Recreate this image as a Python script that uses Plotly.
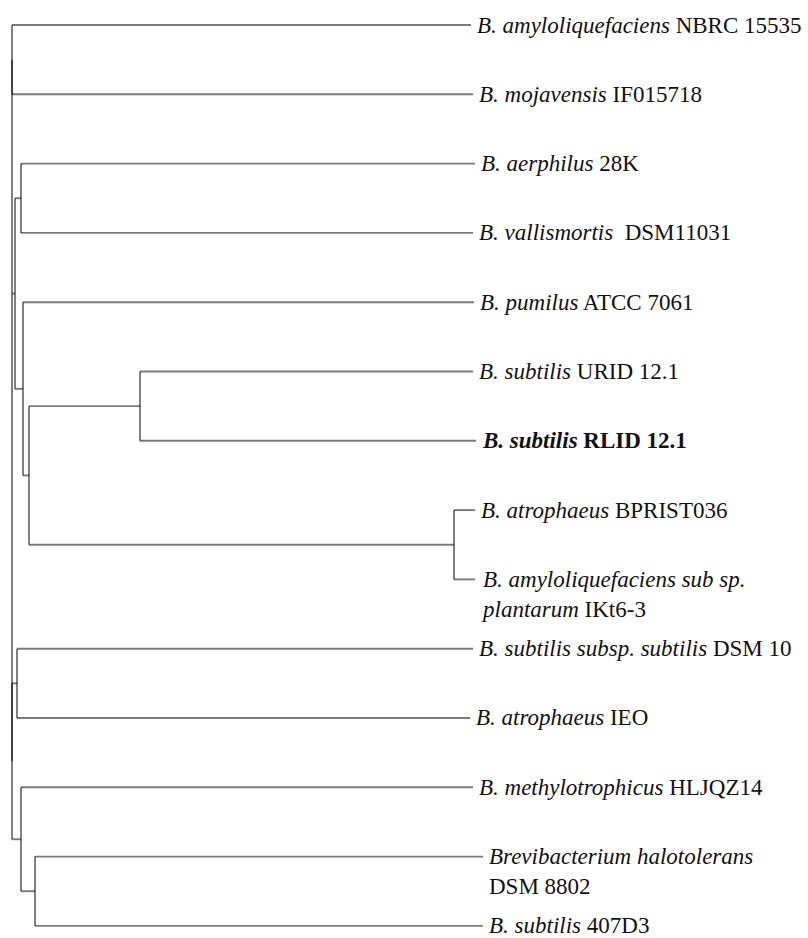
import plotly.graph_objects as go

# ---- data ----
leaf_italic = [
    "B. amyloliquefaciens", "B. mojavensis", "B. aerphilus", "B. vallismortis",
    "B. pumilus", "B. subtilis", "B. subtilis", "B. atrophaeus",
    "B. amyloliquefaciens sub sp.<br>plantarum", "B. subtilis subsp. subtilis",
    "B. atrophaeus", "B. methylotrophicus", "Brevibacterium halotolerans", "B. subtilis",
]
leaf_plain = [
    "NBRC 15535", "IF015718", "28K", "\u00a0DSM11031",
    "ATCC 7061", "URID 12.1", "RLID 12.1", "BPRIST036",
    "IKt6-3", "DSM 10",
    "IEO", "HLJQZ14", "<br>DSM 8802", "407D3",
]
leaf_bold = [False, False, False, False, False, False, True, False,
             False, False, False, False, False, False]
# distance from root of each leaf tip
leaf_depth = [459, 461, 463, 461, 462, 461, 464, 463, 463, 461, 458, 461, 471, 471]

# internal nodes: id, depth from root, children (int = leaf index, str = node id)
node_ids = ["root", "A", "B", "C", "D", "E", "F", "G", "H", "I", "J", "K"]
node_depth = [0, 0, 3, 9, 11, 17, 128, 442, 0, 5, 9, 23]
node_children = [
    ["A", "B", "H"], [0, 1], ["C", "D"], [2, 3], [4, "E"], ["F", "G"],
    [5, 6], [7, 8], ["I", "J"], [9, 10], [11, "K"], [12, 13],
]

# ---- layout computation ----
depth = dict(zip(node_ids, node_depth))
children = dict(zip(node_ids, node_children))
ypos = {}


def get_y(c):
    if isinstance(c, int):
        return c
    if c not in ypos:
        ys = [get_y(k) for k in children[c]]
        ypos[c] = (min(ys) + max(ys)) / 2
    return ypos[c]


def get_x(c):
    return leaf_depth[c] if isinstance(c, int) else depth[c]


for n in node_ids:
    get_y(n)

fig = go.Figure()
line_style = dict(color="rgba(0,0,0,0.52)", width=1.9)
for n in node_ids:
    xs, ys = [], []
    cy = [get_y(c) for c in children[n]]
    xs += [depth[n], depth[n], None]
    ys += [min(cy), max(cy), None]
    for c in children[n]:
        cx = get_x(c)
        if cx != depth[n]:
            xs += [depth[n], cx, None]
            ys += [get_y(c), get_y(c), None]
    fig.add_trace(go.Scatter(x=xs, y=ys, mode="lines", line=line_style,
                             hoverinfo="skip", showlegend=False))

for i in range(len(leaf_italic)):
    nlines = (leaf_italic[i] + leaf_plain[i]).count("<br>") + 1
    if leaf_bold[i]:
        txt = f"<b><i>{leaf_italic[i]}</i> {leaf_plain[i]}</b>"
    else:
        sep = "" if leaf_plain[i].startswith("<br>") else " "
        txt = f"<i>{leaf_italic[i]}</i>{sep}{leaf_plain[i]}"
    fig.add_annotation(x=leaf_depth[i], y=i, text=txt, showarrow=False,
                       xanchor="left", yanchor="middle", align="left",
                       xshift=4, yshift=-15 * (nlines - 1),
                       font=dict(family="Liberation Serif, Times New Roman, serif",
                                 size=23, color="#111"))

fig.update_layout(
    width=808, height=938, margin=dict(l=0, r=0, t=0, b=0),
    plot_bgcolor="white", paper_bgcolor="white",
    xaxis=dict(range=[-12, 796], visible=False, fixedrange=True),
    yaxis=dict(range=[13.175, -0.3608], visible=False, fixedrange=True),
)
fig.write_html("out.html")
